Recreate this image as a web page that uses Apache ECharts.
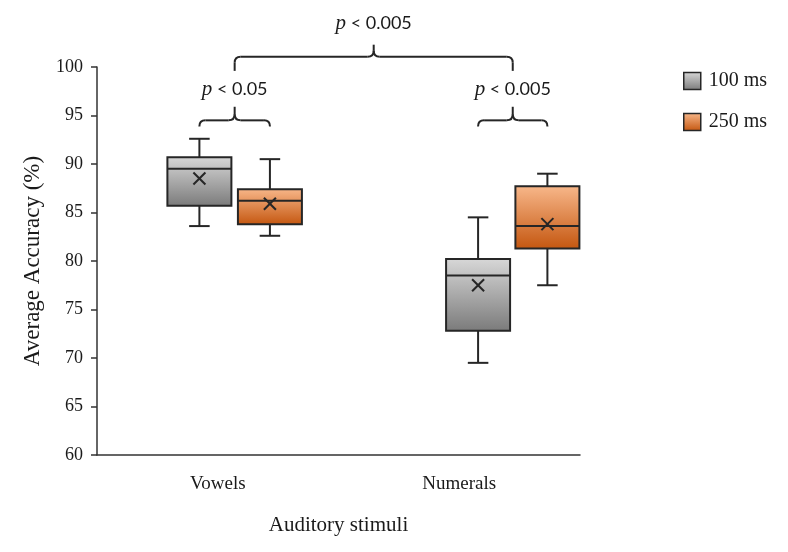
<!DOCTYPE html>
<html>
<head>
<meta charset="utf-8">
<script src="https://cdn.jsdelivr.net/npm/echarts@6/dist/echarts.min.js"></script>
<style>
  html, body { margin: 0; padding: 0; background: #fff; }
  #main { width: 788px; height: 552px; }
</style>
</head>
<body>
<div id="main"></div>
<script>
// categories and series
var categories = ['Vowels', 'Numerals'];
var seriesNames = ['100 ms', '250 ms'];
// [min, Q1, median, Q3, max] per category
var box100 = [[83.6, 85.7, 89.5, 90.7, 92.6], [69.5, 72.8, 78.5, 80.2, 84.5]];
var mean100 = [88.5, 77.5];
var box250 = [[82.6, 83.8, 86.2, 87.4, 90.5], [77.5, 81.3, 83.6, 87.7, 89.0]];
var mean250 = [85.9, 83.8];
// y axis: min, max, step
var yRange = [60, 100, 5];
// significance labels (left pair, across groups, right pair)
var pLabels = ['p < 0.05', 'p < 0.005', 'p < 0.005'];

// layout: box centre offset from the category centre, as share of the band
var boxShift = [[-0.076, 0.216], [0.078, 0.365]];
var boxWidthRatio = 0.265;
var capRatio = 0.085;
var ink = '#262626';
var fills = [
	new echarts.graphic.LinearGradient(0, 0, 0, 1, [{offset: 0, color: '#d8d8d8'}, {offset: 1, color: '#7a7a7a'}]),
	new echarts.graphic.LinearGradient(0, 0, 0, 1, [{offset: 0, color: '#f8b88b'}, {offset: 1, color: '#c4560f'}])
];
// brace spans: [cat, series] (series -1 = middle of the group)
var braceSpans = [
	{from: [0, 0], to: [0, 1], level: 0},
	{from: [0, -1], to: [1, -1], level: 1},
	{from: [1, 0], to: [1, 1], level: 0}
];
var braceLevels = [
	{end: 93.85, line: 94.5, tip: 95.9, text: 97.7},
	{end: 99.6, line: 101.05, tip: 102.3, text: 104.5}
];

function makeData(box, mean) {
	var out = [];
	for (var i = 0; i < categories.length; i++) {
		out.push([i].concat(box[i]).concat([mean[i]]));
	}
	return out;
}

function centerX(api, cat, s) {
	var band = api.size([1, 0])[0];
	var base = api.coord([cat, yRange[0]])[0];
	var shift = s < 0 ? (boxShift[cat][0] + boxShift[cat][1]) / 2 : boxShift[cat][s];
	return base + band * shift;
}

function renderBox(params, api) {
	var cat = api.value(0);
	var s = params.seriesIndex;
	var band = api.size([1, 0])[0];
	var cx = centerX(api, cat, s);
	var half = band * boxWidthRatio / 2;
	var cap = band * capRatio / 2;
	var y = function (v) { return api.coord([cat, v])[1]; };
	var yMin = y(api.value(1)), yQ1 = y(api.value(2)), yMed = y(api.value(3));
	var yQ3 = y(api.value(4)), yMax = y(api.value(5)), yMean = y(api.value(6));
	var ls = {stroke: ink, lineWidth: 2};
	var m = 6;
	return {
		type: 'group',
		children: [
			{type: 'line', shape: {x1: cx, y1: yMax, x2: cx, y2: yMin}, style: ls},
			{type: 'line', shape: {x1: cx - cap, y1: yMax, x2: cx + cap, y2: yMax}, style: ls},
			{type: 'line', shape: {x1: cx - cap, y1: yMin, x2: cx + cap, y2: yMin}, style: ls},
			{type: 'rect', shape: {x: cx - half, y: yQ3, width: half * 2, height: yQ1 - yQ3},
				style: {fill: fills[s], stroke: ink, lineWidth: 2}},
			{type: 'line', shape: {x1: cx - half, y1: yMed, x2: cx + half, y2: yMed}, style: ls},
			{type: 'line', shape: {x1: cx - m, y1: yMean - m, x2: cx + m, y2: yMean + m}, style: ls},
			{type: 'line', shape: {x1: cx - m, y1: yMean + m, x2: cx + m, y2: yMean - m}, style: ls}
		]
	};
}

function renderBrace(params, api) {
	var b = braceSpans[api.value(0)];
	var lv = braceLevels[b.level];
	var x0 = centerX(api, b.from[0], b.from[1]);
	var x1 = centerX(api, b.to[0], b.to[1]);
	var xm = (x0 + x1) / 2;
	var yE = api.coord([0, lv.end])[1];
	var yL = api.coord([0, lv.line])[1];
	var yT = api.coord([0, lv.tip])[1];
	var yTx = api.coord([0, lv.text])[1];
	var r = 6;
	var ls = {stroke: ink, lineWidth: 2, fill: null};
	var label = pLabels[api.value(0)];
	return {
		type: 'group',
		children: [
			{type: 'line', shape: {x1: x0, y1: yE, x2: x0, y2: yL + r}, style: ls},
			{type: 'bezierCurve', shape: {x1: x0, y1: yL + r, cpx1: x0, cpy1: yL, x2: x0 + r, y2: yL}, style: ls},
			{type: 'line', shape: {x1: x0 + r, y1: yL, x2: xm - r, y2: yL}, style: ls},
			{type: 'bezierCurve', shape: {x1: xm - r, y1: yL, cpx1: xm, cpy1: yL, x2: xm, y2: yL - r}, style: ls},
			{type: 'line', shape: {x1: xm, y1: yL - r, x2: xm, y2: yT}, style: ls},
			{type: 'bezierCurve', shape: {x1: xm, y1: yL - r, cpx1: xm, cpy1: yL, x2: xm + r, y2: yL}, style: ls},
			{type: 'line', shape: {x1: xm + r, y1: yL, x2: x1 - r, y2: yL}, style: ls},
			{type: 'bezierCurve', shape: {x1: x1 - r, y1: yL, cpx1: x1, cpy1: yL, x2: x1, y2: yL + r}, style: ls},
			{type: 'line', shape: {x1: x1, y1: yL + r, x2: x1, y2: yE}, style: ls},
			{type: 'text', x: xm, y: yTx, style: {
				text: '{i|' + label.charAt(0) + '}' + label.slice(1),
				align: 'center', verticalAlign: 'middle',
				fill: '#1a1a1a', font: '18px Lato',
				rich: {i: {fontStyle: 'italic', fontFamily: 'Liberation Serif', fontSize: 21, fill: '#1a1a1a'}}
			}}
		]
	};
}

var myChart = echarts.init(document.getElementById('main'));
var serif = 'Liberation Serif';
var option = {
	animation: false,
	grid: {left: 97, right: 208, top: 67, bottom: 97},
	legend: {
		orient: 'vertical',
		left: 678,
		top: 66,
		itemWidth: 17,
		itemHeight: 17,
		itemGap: 21,
		textStyle: {fontFamily: serif, fontSize: 20, color: '#1a1a1a', padding: [0, 0, 0, 3]},
		data: [
			{name: seriesNames[0], icon: 'rect', itemStyle: {color: fills[0], borderColor: ink, borderWidth: 1.5}},
			{name: seriesNames[1], icon: 'rect', itemStyle: {color: fills[1], borderColor: ink, borderWidth: 1.5}}
		]
	},
	xAxis: {
		type: 'category',
		data: categories,
		name: 'Auditory stimuli',
		nameLocation: 'middle',
		nameGap: 60,
		nameTextStyle: {fontFamily: serif, fontSize: 21, color: '#1a1a1a'},
		axisLine: {lineStyle: {color: '#333', width: 1.5}},
		axisTick: {show: false},
		axisLabel: {fontFamily: serif, fontSize: 19, color: '#1a1a1a', margin: 20}
	},
	yAxis: {
		type: 'value',
		min: yRange[0],
		max: yRange[1],
		interval: yRange[2],
		name: 'Average Accuracy (%)',
		nameLocation: 'middle',
		nameGap: 53,
		nameTextStyle: {fontFamily: serif, fontSize: 23, color: '#1a1a1a'},
		axisLine: {show: true, lineStyle: {color: '#333', width: 1.5}},
		axisTick: {show: true, length: 6, lineStyle: {color: '#333', width: 1.5}},
		axisLabel: {fontFamily: serif, fontSize: 18, color: '#1a1a1a', margin: 14},
		splitLine: {show: false}
	},
	series: [
		{
			name: seriesNames[0],
			type: 'custom',
			renderItem: renderBox,
			itemStyle: {color: fills[0], borderColor: ink},
			encode: {x: 0, y: [1, 2, 3, 4, 5, 6]},
			data: makeData(box100, mean100),
			z: 2
		},
		{
			name: seriesNames[1],
			type: 'custom',
			renderItem: renderBox,
			itemStyle: {color: fills[1], borderColor: ink},
			encode: {x: 0, y: [1, 2, 3, 4, 5, 6]},
			data: makeData(box250, mean250),
			z: 2
		},
		{
			name: 'significance',
			type: 'custom',
			renderItem: renderBrace,
			clip: false,
			silent: true,
			encode: {x: -1, y: -1},
			data: [[0], [1], [2]],
			z: 3
		}
	]
};
myChart.setOption(option);
</script>
</body>
</html>
